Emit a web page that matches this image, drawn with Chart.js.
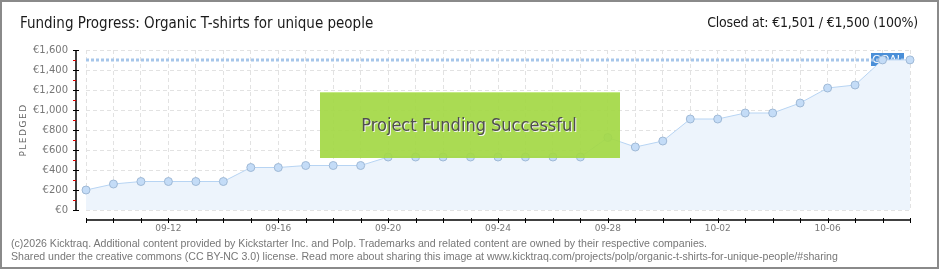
<!DOCTYPE html>
<html>
<head>
<meta charset="utf-8">
<script src="https://cdn.jsdelivr.net/npm/chart.js@4/dist/chart.umd.min.js"></script>
<style>
  html, body { margin: 0; padding: 0; background: #fff; }
  #wrap { position: relative; width: 940px; height: 270px; overflow: hidden; }
  #c { position: absolute; left: 0; top: 0; }
  #frame { position: absolute; left: 0; top: 0; width: 939px; height: 269px; box-sizing: border-box; border: 2px solid #8a8a8a; pointer-events: none; }
  .t { position: absolute; white-space: nowrap; }
  #title { left: 20px; top: 14px; font: 15px "DejaVu Sans Condensed", "DejaVu Sans", sans-serif; color: #1a1a1a; }
  #closed { right: 22px; top: 14px; font: 14px "DejaVu Sans Condensed", "DejaVu Sans", sans-serif; color: #1a1a1a; letter-spacing: -0.2px; }
  #f1 { left: 11px; top: 237px; font: 10.6px "Liberation Sans", Arial, sans-serif; color: #777; }
  #f2 { left: 11px; top: 250px; font: 10.6px "Liberation Sans", Arial, sans-serif; color: #777; }
</style>
</head>
<body>
<div id="wrap">
  <canvas id="c" width="940" height="270"></canvas>
  <div class="t" id="title">Funding Progress: Organic T-shirts for unique people</div>
  <div class="t" id="closed">Closed at: €1,501 / €1,500 (100%)</div>
  <div class="t" id="f1">(c)2026 Kicktraq. Additional content provided by Kickstarter Inc. and Polp. Trademarks and related content are owned by their respective companies.</div>
  <div class="t" id="f2">Shared under the creative commons (CC BY-NC 3.0) license. Read more about sharing this image at www.kicktraq.com/projects/polp/organic-t-shirts-for-unique-people/#sharing</div>
  <div id="frame"></div>
</div>
<script>
const dates = ['09-09','09-10','09-11','09-12','09-13','09-14','09-15','09-16','09-17','09-18','09-19','09-20','09-21','09-22','09-23','09-24','09-25','09-26','09-27','09-28','09-29','09-30','10-01','10-02','10-03','10-04','10-05','10-06','10-07','10-08','10-09'];
const pledged = [200,260,285,285,285,285,425,425,445,445,445,530,530,530,530,530,530,530,530,725,630,690,910,910,970,970,1070,1220,1250,1501,1501];
const goal = 1500;
const goalLine = dates.map(() => goal);
const yTickValues = [0,200,400,600,800,1000,1200,1400,1600];
const yMinorValues = [100,300,500,700,900,1100,1300,1500];
const successText = 'Project Funding Successful';
const goalText = 'GOAL';

const decor = {
  id: 'decor',
  beforeDatasetsDraw(chart) {
    const ctx = chart.ctx, a = chart.chartArea, y = chart.scales.y;
    const gy = y.getPixelForValue(goal);
    ctx.save();
    ctx.fillStyle = '#4a8fd8';
    ctx.fillRect(a.right - 39, gy - 7, 33, 13);
    ctx.fillStyle = '#ffffff';
    ctx.font = '11px "DejaVu Sans", sans-serif';
    ctx.textAlign = 'center';
    ctx.textBaseline = 'middle';
    ctx.fillText(goalText, a.right - 22.5, gy);
    ctx.restore();
  },
  afterDatasetsDraw(chart) {
    const ctx = chart.ctx;
    ctx.save();
    ctx.fillStyle = 'rgba(164,216,70,0.93)';
    ctx.fillRect(320, 92, 300, 66);
    ctx.fillStyle = 'rgba(200,236,140,0.9)';
    ctx.fillRect(320, 92, 300, 1);
    ctx.font = '18px "DejaVu Sans Condensed", "DejaVu Sans", sans-serif';
    ctx.textAlign = 'center';
    ctx.textBaseline = 'alphabetic';
    ctx.fillStyle = '#f4f4f4';
    ctx.fillText(successText, 470, 132);
    ctx.fillStyle = '#4f4f4f';
    ctx.fillText(successText, 469, 131);
    ctx.restore();
  },
  afterDraw(chart) {
    const ctx = chart.ctx, a = chart.chartArea, x = chart.scales.x, y = chart.scales.y;
    ctx.save();
    const ax = a.left - 10;
    ctx.strokeStyle = '#000';
    ctx.lineWidth = 1.5;
    ctx.beginPath();
    ctx.moveTo(ax, y.getPixelForValue(1600));
    ctx.lineTo(ax, y.getPixelForValue(0));
    ctx.stroke();
    ctx.lineWidth = 1;
    yTickValues.forEach(v => {
      const py = Math.round(y.getPixelForValue(v)) + 0.5;
      ctx.strokeStyle = '#000';
      ctx.beginPath(); ctx.moveTo(ax - 3, py); ctx.lineTo(ax + 3, py); ctx.stroke();
    });
    yMinorValues.forEach(v => {
      const py = Math.round(y.getPixelForValue(v)) + 0.5;
      ctx.strokeStyle = '#e00000';
      ctx.beginPath(); ctx.moveTo(ax - 3, py); ctx.lineTo(ax, py); ctx.stroke();
    });
    const ay = a.bottom + 10;
    ctx.strokeStyle = '#000';
    ctx.lineWidth = 1.5;
    ctx.beginPath();
    ctx.moveTo(x.getPixelForValue(0), ay);
    ctx.lineTo(x.getPixelForValue(dates.length - 1), ay);
    ctx.stroke();
    ctx.lineWidth = 1;
    dates.forEach((d, i) => {
      const px = Math.round(x.getPixelForValue(i)) + 0.5;
      ctx.beginPath(); ctx.moveTo(px, ay - 2); ctx.lineTo(px, ay + 3); ctx.stroke();
    });
    ctx.translate(24, (a.top + a.bottom) / 2);
    ctx.rotate(-Math.PI / 2);
    ctx.fillStyle = '#666';
    ctx.font = '9px "DejaVu Sans", sans-serif';
    ctx.letterSpacing = '1.5px';
    ctx.textAlign = 'center';
    ctx.textBaseline = 'middle';
    ctx.fillText('PLEDGED', 0, 0);
    ctx.restore();
  }
};

new Chart(document.getElementById('c'), {
  type: 'line',
  data: {
    labels: dates,
    datasets: [
      {
        label: 'Pledged',
        data: pledged,
        borderColor: '#b7d4f3',
        borderWidth: 1,
        backgroundColor: '#edf4fc',
        fill: 'origin',
        tension: 0,
        pointRadius: 4,
        pointBackgroundColor: '#c4dcf7',
        pointBorderColor: '#9fb9d6',
        pointBorderWidth: 1,
        order: 1
      },
      {
        label: 'Goal',
        data: goalLine,
        borderColor: '#a6c6ea',
        borderWidth: 3,
        borderDash: [3, 2],
        pointRadius: 0,
        fill: false,
        order: 2
      }
    ]
  },
  options: {
    responsive: false,
    animation: false,
    devicePixelRatio: 1,
    layout: { padding: { top: 50, right: 30, left: 0, bottom: 0 } },
    plugins: { legend: { display: false }, tooltip: { enabled: false }, title: { display: false } },
    scales: {
      x: {
        type: 'category',
        offset: false,
        afterFit(s) { s.height = 60; },
        grid: { color: '#e2e2e2', lineWidth: 1, drawTicks: false },
        border: { display: false, dash: [4, 3] },
        ticks: {
          autoSkip: false,
          maxRotation: 0,
          padding: 13,
          color: '#777',
          font: { family: '"DejaVu Sans", sans-serif', size: 9 },
          callback(v, i) { return (i % 4 === 3) ? dates[i] : ''; }
        }
      },
      y: {
        min: 0,
        max: 1600,
        afterFit(s) { s.width = 86; },
        afterBuildTicks(s) { s.ticks = yTickValues.map(v => ({ value: v })); },
        grid: { color: '#e2e2e2', lineWidth: 1, drawTicks: false },
        border: { display: false, dash: [4, 3] },
        ticks: {
          padding: 18,
          color: '#777',
          font: { family: '"DejaVu Sans", sans-serif', size: 10 },
          callback(v) { return '€' + v.toLocaleString('en-US'); }
        }
      }
    }
  },
  plugins: [decor]
});
</script>
</body>
</html>
